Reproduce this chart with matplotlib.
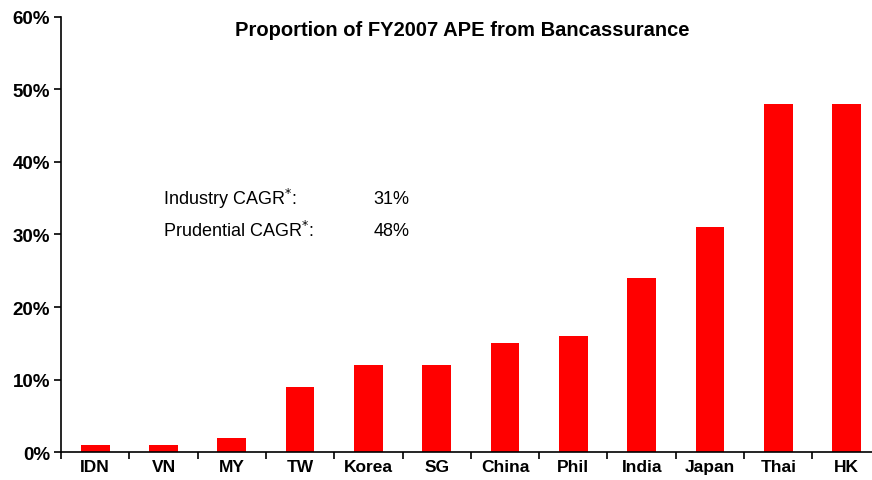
import matplotlib
matplotlib.use('Agg')
import matplotlib.pyplot as plt
import numpy as np

# Share of FY2007 APE coming through bancassurance, by market
markets = ['IDN', 'VN', 'MY', 'TW', 'Korea', 'SG', 'China', 'Phil', 'India', 'Japan', 'Thai', 'HK']
share = [1, 1, 2, 9, 12, 12, 15, 16, 24, 31, 48, 48]  # %

cagr_labels = ['Industry CAGR$^{*}$:', 'Prudential CAGR$^{*}$:']
cagr_values = ['31%', '48%']

plt.rcParams['font.family'] = ['Liberation Sans', 'DejaVu Sans']

fig = plt.figure(figsize=(8.72, 4.81), dpi=100)
ax = fig.add_axes([0.07, 0.058, 0.94, 0.905])

x = np.arange(len(markets))
ax.bar(x, share, width=0.42, color='#ff0000')

ax.set_xlim(-0.5, len(markets) - 0.5)
ax.set_ylim(0, 60)
ax.set_yticks(range(0, 61, 10))
ax.set_yticklabels([f'{v}%' for v in range(0, 61, 10)], fontsize=13.5, fontweight='bold')

# category labels centred, tick marks on the boundaries
ax.set_xticks(x)
ax.set_xticklabels(markets, fontsize=12.5, fontweight='bold')
ax.tick_params(axis='x', which='major', length=0, pad=5)
ax.set_xticks(np.arange(-0.5, len(markets), 1), minor=True)
ax.tick_params(axis='x', which='minor', length=5, width=1.2, direction='out')
ax.tick_params(axis='y', length=5, width=1.2, direction='out', pad=3)

for s in ['top', 'right']:
    ax.spines[s].set_visible(False)
for s in ['left', 'bottom']:
    ax.spines[s].set_linewidth(1.2)

fig.text(0.53, 0.937, 'Proportion of FY2007 APE from Bancassurance',
         ha='center', va='center', fontsize=14.5, fontweight='bold')

for i, (lab, val) in enumerate(zip(cagr_labels, cagr_values)):
    y = 0.586 - i * 0.067
    fig.text(0.187, y, lab, ha='left', va='center', fontsize=13)
    fig.text(0.428, y, val, ha='left', va='center', fontsize=13)

plt.savefig('out.png', dpi=100)
plt.close()
